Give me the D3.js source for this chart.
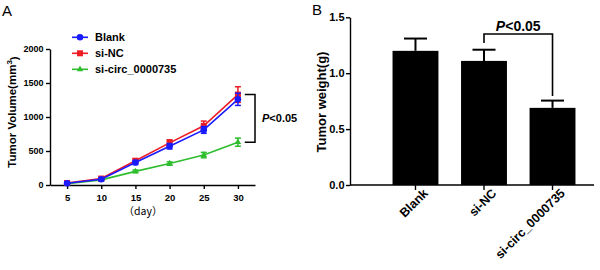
<!DOCTYPE html>
<html>
<head>
<meta charset="utf-8">
<script src="https://cdn.jsdelivr.net/npm/d3@7"></script>
<style>
  body { margin: 0; background: #fff; }
  text { font-family: Arial, "Liberation Sans", sans-serif; }
  .axis path, .axis line { stroke: #000; stroke-width: 1.4px; }
  .axis text { font-weight: bold; fill: #000; }
</style>
</head>
<body>
<div id="container"></div>
<script>
/* DATA */
const days = [5, 10, 15, 20, 25, 30];
const blankVol = [25, 85, 330, 570, 810, 1260];
const blankErr = [15, 20, 30, 40, 50, 90];
const ncVol = [30, 95, 357, 620, 870, 1330];
const ncErr = [15, 20, 30, 45, 70, 115];
const circVol = [20, 75, 200, 315, 440, 630];
const circErr = [10, 10, 20, 25, 40, 60];
const volTicks = [0, 500, 1000, 1500, 2000];

const groups = ["Blank", "si-NC", "si-circ_0000735"];
const weights = [1.2, 1.11, 0.69];
const weightErr = [0.11, 0.10, 0.065];
const weightTicks = [0, 0.5, 1.0, 1.5];

const series = [
  { name: "Blank", vals: blankVol, err: blankErr, color: "#1a1aff", shape: "circle" },
  { name: "si-NC", vals: ncVol, err: ncErr, color: "#ee1c24", shape: "square" },
  { name: "si-circ_0000735", vals: circVol, err: circErr, color: "#2dbd2d", shape: "triangle" }
];

const svg = d3.select("#container").append("svg")
  .attr("width", 600)
  .attr("height", 270);

svg.append("rect").attr("width", 600).attr("height", 270).attr("fill", "#fff");

/* PANEL A */
const xA = d3.scaleLinear().domain([2.5, 32.5]).range([50, 255]);
const yA = d3.scaleLinear().domain([0, 2000]).range([185, 49]);

svg.append("text").attr("x", 2).attr("y", 16).style("font-size", "15px").text("A");

svg.append("g").attr("class", "axis")
  .attr("transform", "translate(50,0)")
  .call(d3.axisLeft(yA).tickValues(volTicks).tickFormat(d3.format("d")).tickSize(4).tickSizeOuter(0).tickPadding(2.5))
  .selectAll("text").style("font-size", "9px");

svg.append("g").attr("class", "axis")
  .attr("transform", "translate(0,185)")
  .call(d3.axisBottom(xA).tickValues(days).tickSize(4).tickSizeOuter(0).tickPadding(5))
  .selectAll("text").style("font-size", "9.5px");

svg.append("text")
  .attr("transform", "translate(16,112) rotate(-90)")
  .attr("text-anchor", "middle")
  .style("font-size", "11.5px").style("font-weight", "bold")
  .call(t => {
    t.append("tspan").text("Tumor Volume(mm");
    t.append("tspan").attr("dy", "-0.45em").style("font-size", "8px").text("3");
    t.append("tspan").attr("dy", "0.45em").text(")");
  });

svg.append("text")
  .attr("x", 143).attr("y", 215)
  .attr("text-anchor", "middle")
  .style("font-size", "10.5px")
  .style("font-family", "'Noto Sans CJK JP', 'Noto Sans CJK SC'")
  .text("（day）");

const line = d3.line().x((d, i) => xA(days[i])).y(d => yA(d));

function marker(sel, shape, color, size) {
  if (shape === "circle") {
    sel.append("circle").attr("r", size * 0.55).attr("fill", color);
  } else if (shape === "square") {
    sel.append("rect").attr("x", -size / 2).attr("y", -size / 2)
      .attr("width", size).attr("height", size).attr("fill", color);
  } else {
    sel.append("path").attr("d", d3.symbol(d3.symbolTriangle, size * size * 0.5)()).attr("fill", color);
  }
}

// draw green, red, then blue on top
[2, 1, 0].forEach(k => {
  const s = series[k];
  const g = svg.append("g");
  g.append("path").datum(s.vals)
    .attr("d", line).attr("fill", "none")
    .attr("stroke", s.color).attr("stroke-width", 1.6);
  s.vals.forEach((v, i) => {
    const x = xA(days[i]);
    const e = s.err[i];
    g.append("line").attr("x1", x).attr("x2", x)
      .attr("y1", yA(v - e)).attr("y2", yA(v + e))
      .attr("stroke", s.color).attr("stroke-width", 1.5);
    [v - e, v + e].forEach(c => {
      g.append("line").attr("x1", x - 3).attr("x2", x + 3)
        .attr("y1", yA(c)).attr("y2", yA(c))
        .attr("stroke", s.color).attr("stroke-width", 1.5);
    });
    g.append("g").attr("transform", `translate(${x},${yA(v)})`)
      .call(m => marker(m, s.shape, s.color, 6));
  });
});

// legend
series.forEach((s, i) => {
  const ly = 37.3 + i * 16;
  const lg = svg.append("g").attr("transform", `translate(0,${ly})`);
  lg.append("line").attr("x1", 72).attr("x2", 88).attr("stroke", s.color).attr("stroke-width", 1.6);
  lg.append("g").attr("transform", "translate(80,0)").call(m => marker(m, s.shape, s.color, 6));
  lg.append("text").attr("x", 95).attr("dy", "0.36em")
    .style("font-size", "11px").style("font-weight", "bold").text(s.name);
});

// significance bracket A
const bx0 = xA(31), bx1 = xA(32.5);
const by0 = yA(ncVol[5]), by1 = yA(circVol[5]);
svg.append("path")
  .attr("d", `M${bx0},${by0}H${bx1}V${by1}H${bx0}`)
  .attr("fill", "none").attr("stroke", "#000").attr("stroke-width", 1.5);
svg.append("text").attr("x", 262).attr("y", (by0 + by1) / 2 + 4)
  .style("font-size", "11px").style("font-weight", "bold")
  .call(t => {
    t.append("tspan").style("font-style", "italic").text("P");
    t.append("tspan").text("<0.05");
  });

/* PANEL B */
const xB = d3.scaleBand().domain(groups).range([375.4, 592.6]).paddingInner(0.33).paddingOuter(0.25);
const yB = d3.scaleLinear().domain([0, 1.5]).range([185, 17.3]);

svg.append("text").attr("x", 312).attr("y", 15).style("font-size", "15px").text("B");

svg.append("g").attr("class", "axis")
  .attr("transform", "translate(350,0)")
  .call(d3.axisLeft(yB).tickValues(weightTicks).tickFormat(d3.format(".1f")).tickSize(4).tickSizeOuter(0).tickPadding(1.5))
  .selectAll("text").style("font-size", "11px");

svg.append("text")
  .attr("transform", "translate(325.5,102) rotate(-90)")
  .attr("text-anchor", "middle")
  .style("font-size", "13px").style("font-weight", "bold")
  .text("Tumor weight(g)");

// bars
svg.selectAll("rect.bar")
  .data(groups)
  .join("rect")
  .attr("class", "bar")
  .attr("x", d => xB(d))
  .attr("width", xB.bandwidth())
  .attr("y", (d, i) => yB(weights[i]))
  .attr("height", (d, i) => yB(0) - yB(weights[i]))
  .attr("fill", "#000");

// error bars (upward)
groups.forEach((d, i) => {
  const cx = xB(d) + xB.bandwidth() / 2;
  const top = yB(weights[i] + weightErr[i]);
  svg.append("line").attr("x1", cx).attr("x2", cx)
    .attr("y1", yB(weights[i])).attr("y2", top)
    .attr("stroke", "#000").attr("stroke-width", 2);
  svg.append("line").attr("x1", cx - 11.5).attr("x2", cx + 11.5)
    .attr("y1", top).attr("y2", top)
    .attr("stroke", "#000").attr("stroke-width", 2);
});

// x axis B
const xAxisB = svg.append("g").attr("class", "axis")
  .attr("transform", "translate(0,185)");
xAxisB.append("line").attr("x1", 350).attr("x2", 594).attr("stroke", "#000").attr("stroke-width", 1.4);
xAxisB.call(g => {
  const ax = d3.axisBottom(xB).tickSize(5).tickSizeOuter(0);
  const inner = g.append("g").call(ax);
  inner.select(".domain").remove();
  inner.selectAll("text")
    .attr("text-anchor", "end")
    .attr("x", 3).attr("y", 7).attr("dy", "0.7em")
    .attr("transform", "rotate(-45)")
    .style("font-size", "12.5px");
});

// significance bracket B
const lx = xB("si-NC") + xB.bandwidth() / 2;
const rx = xB("si-circ_0000735") + xB.bandwidth() / 2;
const topY = yB(1.35);
svg.append("path")
  .attr("d", `M${lx},${yB(weights[1] + weightErr[1] + 0.06)}V${topY}H${rx}V${yB(weights[2] + weightErr[2] + 0.04)}`)
  .attr("fill", "none").attr("stroke", "#000").attr("stroke-width", 1.6);
svg.append("text").attr("x", (lx + rx) / 2).attr("y", 31)
  .attr("text-anchor", "middle")
  .style("font-size", "14px").style("font-weight", "bold")
  .call(t => {
    t.append("tspan").style("font-style", "italic").text("P");
    t.append("tspan").text("<0.05");
  });
</script>
</body>
</html>
